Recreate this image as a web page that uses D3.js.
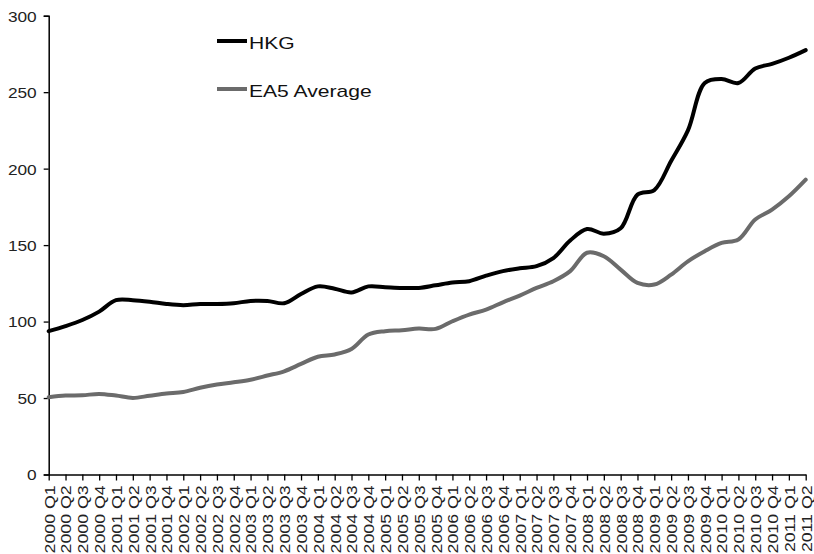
<!DOCTYPE html>
<html>
<head>
<meta charset="utf-8">
<script src="https://cdn.jsdelivr.net/npm/d3@7"></script>
<style>
  html, body { margin: 0; padding: 0; background: #fff; }
  svg { display: block; font-family: "Liberation Sans", Arial, sans-serif; }
</style>
</head>
<body>
<svg id="chart" width="814" height="554"></svg>
<script>
const quarters = [];
for (let y = 2000; y <= 2011; y++) {
  for (let q = 1; q <= 4; q++) {
    if (y === 2011 && q > 2) break;
    quarters.push(y + " Q" + q);
  }
}

const seriesNames = ["HKG", "EA5 Average"];

const hkg = [93.7, 97, 101, 106.5, 114, 114, 113, 111.5, 110.7, 111.5,
  111.5, 112, 113.5, 113.5, 112, 118, 123, 121.5, 119, 123,
  122.5, 122, 122, 123.7, 125.5, 126.4, 130, 133, 134.8, 136.2,
  141.5, 153, 160.5, 157.5, 161, 183, 186, 205, 225, 256,
  258.6, 256, 265.5, 268.5, 272.5, 277.5];

const ea5 = [50.5, 51.6, 51.8, 52.7, 51.6, 50.1, 51.5, 52.9, 54, 56.7,
  58.8, 60.3, 62, 64.7, 67.5, 72.3, 77, 78.5, 82, 91.5,
  93.7, 94.3, 95.4, 95.2, 100.2, 104.6, 107.8, 112.6, 117, 122,
  126.4, 133, 145, 142.7, 134, 125.3, 124.2, 130.7, 139.4, 146,
  151.4, 153.6, 166.7, 173.2, 181.9, 192.8];

const yTicks = [0, 50, 100, 150, 200, 250, 300];

const colors = ["#000000", "#6b6b6b"];

const svg = d3.select("#chart");

const x = d3.scalePoint().domain(quarters).range([48.7, 805.7]);
const y = d3.scaleLinear().domain([0, 300]).range([474.5, 15.7]);

function stretch(sel, k) {
  sel.each(function () {
    const w = this.getComputedTextLength();
    this.setAttribute("textLength", w * k);
    this.setAttribute("lengthAdjust", "spacingAndGlyphs");
  });
}

// Y axis
const yAxis = svg.append("g")
  .attr("transform", "translate(48.7,0)")
  .call(d3.axisLeft(y).tickValues(yTicks).tickSize(5).tickPadding(7).tickFormat(d3.format("d")));
yAxis.select(".domain").attr("stroke", "#000").attr("stroke-width", 1.5);
yAxis.selectAll(".tick line").attr("stroke", "#000").attr("stroke-width", 1.3);
yAxis.selectAll("text")
  .attr("font-size", 15)
  .attr("fill", "#222")
  .attr("dy", "0.36em")
  .call(stretch, 1.15);

// X axis
const xAxis = svg.append("g")
  .attr("transform", "translate(0,474.5)")
  .call(d3.axisBottom(x).tickSize(6).tickSizeOuter(0));
xAxis.select(".domain").attr("stroke", "#000").attr("stroke-width", 1.5);
xAxis.selectAll(".tick line").attr("stroke", "#000").attr("stroke-width", 1.3);
xAxis.selectAll("text")
  .attr("font-size", 15)
  .attr("fill", "#222")
  .attr("transform", "rotate(-90)")
  .attr("x", -11)
  .attr("y", 0)
  .attr("dy", "0.36em")
  .style("text-anchor", "end")
  .call(stretch, 1.18);

// Lines
const line = d3.line()
  .x((d, i) => x(quarters[i]))
  .y(d => y(d))
  .curve(d3.curveCatmullRom.alpha(0.5));

[ea5, hkg].forEach((s, idx) => {
  svg.append("path")
    .datum(s)
    .attr("fill", "none")
    .attr("stroke", idx === 0 ? colors[1] : colors[0])
    .attr("stroke-width", 4)
    .attr("stroke-linejoin", "round")
    .attr("stroke-linecap", "round")
    .attr("d", line);
});

// Legend
const legend = svg.append("g");
const legendY = [41, 89];
seriesNames.forEach((name, i) => {
  legend.append("line")
    .attr("x1", 217).attr("x2", 247)
    .attr("y1", legendY[i]).attr("y2", legendY[i])
    .attr("stroke", colors[i])
    .attr("stroke-width", 4);
  legend.append("text")
    .attr("x", 249)
    .attr("y", legendY[i] + 7.5)
    .attr("font-size", 17)
    .attr("fill", "#111")
    .text(name)
    .call(stretch, 1.24);
});
</script>
</body>
</html>
